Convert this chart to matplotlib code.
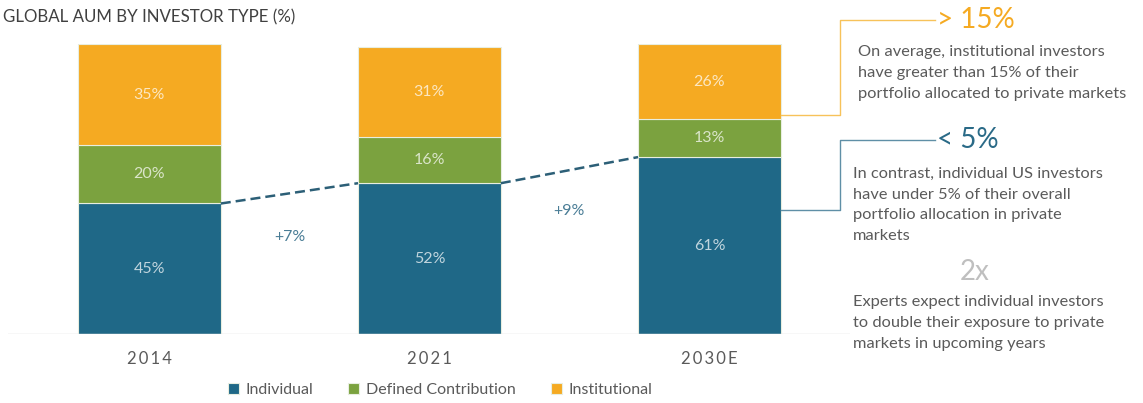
import matplotlib
matplotlib.use("Agg")
import matplotlib.pyplot as plt
import numpy as np

years = ["2014", "2021", "2030E"]
individual = [45, 52, 61]
defined_contribution = [20, 16, 13]
institutional = [35, 31, 26]
growth_labels = ["+7%", "+9%"]

BLUE = "#1f6887"
GREEN = "#7ba23f"
ORANGE = "#f5aa22"
TEXT = "#5a5a5a"

plt.rcParams["font.family"] = ["Lato", "DejaVu Sans"]

W, H = 1143, 403
fig = plt.figure(figsize=(W / 100, H / 100), dpi=100)

# axes placed in pixel terms: x 8..850, y 44..334 (100% at top)
ax = fig.add_axes([8 / W, (H - 334) / H, 842 / W, 290 / H])
x = np.arange(len(years))
bw = 0.51

series = [(individual, BLUE, "Individual"),
          (defined_contribution, GREEN, "Defined Contribution"),
          (institutional, ORANGE, "Institutional")]
bottom = np.zeros(len(years))
for vals, col, name in series:
    vals = np.asarray(vals, float)
    ax.bar(x, vals, bw, bottom=bottom, color=col, edgecolor="#e8eee0",
           linewidth=0.8, label=name)
    for xi, b, v in zip(x, bottom, vals):
        ax.text(xi, b + v / 2, f"{v:.0f}%", ha="center", va="center",
                color="white", alpha=0.72, fontsize=11.5)
    bottom += vals

# dashed connectors between individual segment tops
offsets = [-15, -14]
for i in range(len(years) - 1):
    ax.plot([x[i] + bw / 2, x[i + 1] - bw / 2], [individual[i], individual[i + 1]],
            ls=(0, (4, 2)), color="#2c5f77", lw=1.8)
    ax.text(x[i] + 0.5, (individual[i] + individual[i + 1]) / 2 + offsets[i], growth_labels[i],
            ha="center", va="center", color="#4a7d96", fontsize=11.5)

ax.set_xlim(-0.505, 2.502)
ax.set_ylim(0, 100)
ax.axhline(0, color="#d9d9d9", lw=1)
for s in ax.spines.values():
    s.set_visible(False)
ax.set_yticks([])
ax.set_xticks(x)
# slightly tracked year labels
ax.set_xticklabels(["\u2009".join(y) for y in years], color=TEXT, fontsize=12)
ax.tick_params(axis="x", length=0, pad=12)

# callouts on the right, drawn off the last bar
last = x[-1] + bw / 2
px = lambda p: (p - 149.5) / 280.0
py = lambda p: (334 - p) / 2.9
ax.plot([last, px(840), px(840), px(935)], [py(115), py(115), py(20), py(20)],
        color="#f7c25a", lw=1, clip_on=False)
ax.plot([last, px(840), px(840), px(935)], [py(210), py(210), py(140), py(140)],
        color="#5f8fa6", lw=1, clip_on=False)

def ftext(xp, yp, s, **kw):
    fig.text(xp / W, 1 - yp / H, s, **kw)

ftext(3, 17, "GLOBAL AUM BY INVESTOR TYPE (%)", color="#404040", fontsize=12.2, va="center")

ftext(937, 20, "> 15%", color=ORANGE, fontsize=20, va="center")
ftext(858, 73, "On average, institutional investors\nhave greater than 15% of their\n"
      "portfolio allocated to private markets", color=TEXT, fontsize=11.8,
      va="center", linespacing=1.62)

ftext(937, 140, "< 5%", color="#2a6a87", fontsize=20, va="center")
ftext(853, 205, "In contrast, individual US investors\nhave under 5% of their overall\n"
      "portfolio allocation in private\nmarkets", color=TEXT, fontsize=11.8,
      va="center", linespacing=1.62)

ftext(975, 272, "2x", color="#bfbfbf", fontsize=20, va="center", ha="center")
ftext(853, 323, "Experts expect individual investors\nto double their exposure to private\n"
      "markets in upcoming years", color=TEXT, fontsize=11.8,
      va="center", linespacing=1.62)

leg = fig.legend(loc="center", bbox_to_anchor=(440 / W, 1 - 390 / H), ncol=3,
                 frameon=False, fontsize=11.5, handlelength=0.7, handleheight=0.7,
                 handletextpad=0.4, columnspacing=2.2)
for t in leg.get_texts():
    t.set_color(TEXT)

fig.savefig("out.png", dpi=100, facecolor="white")
